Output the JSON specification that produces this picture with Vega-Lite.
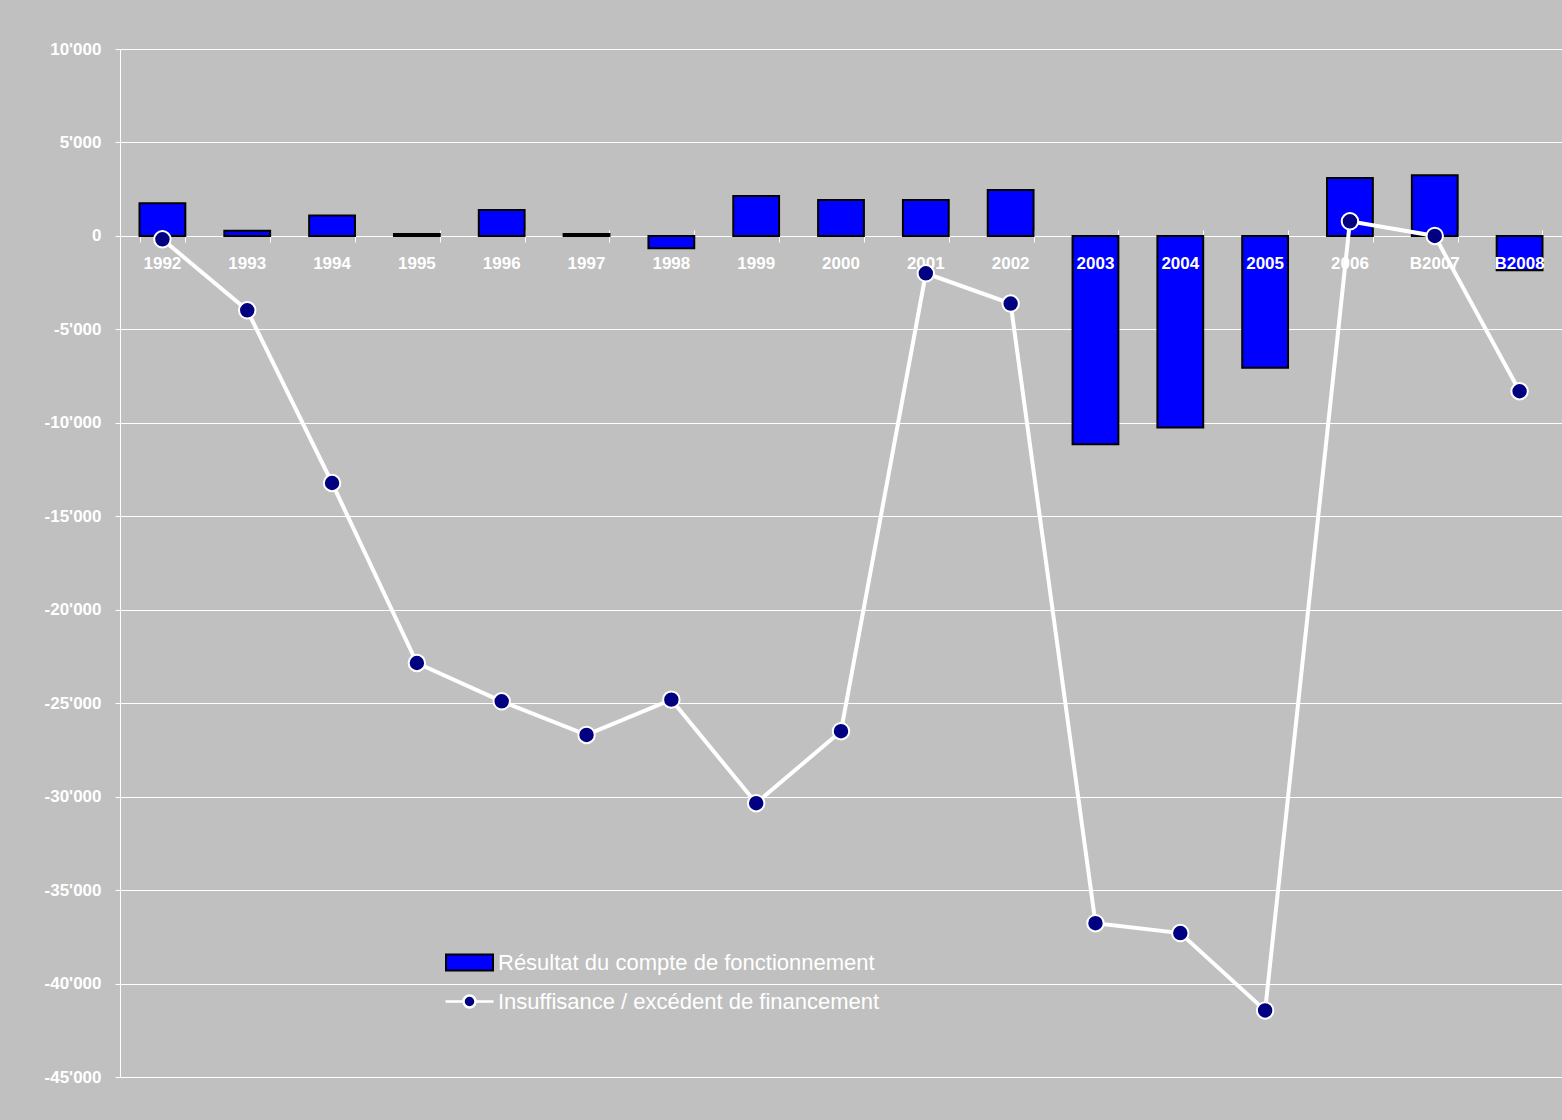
{
  "$schema": "https://vega.github.io/schema/vega-lite/v6.json",
  "width": 1442,
  "height": 1028,
  "autosize": {"type": "none"},
  "padding": {"left": 120, "top": 49, "right": 0, "bottom": 43},
  "background": "#C0C0C0",
  "config": {
    "view": {"stroke": null},
    "font": "Liberation Sans",
    "locale": {"number": {"decimal": ".", "thousands": "'", "grouping": [3], "currency": ["", ""], "minus": "-"}}
  },
  "data": {
    "values": [
      {"annee": "1992", "resultat": 1750, "financement": -180},
      {"annee": "1993", "resultat": 270, "financement": -3980},
      {"annee": "1994", "resultat": 1090, "financement": -13220},
      {"annee": "1995", "resultat": 100, "financement": -22850},
      {"annee": "1996", "resultat": 1390, "financement": -24900},
      {"annee": "1997", "resultat": 100, "financement": -26700},
      {"annee": "1998", "resultat": -660, "financement": -24810},
      {"annee": "1999", "resultat": 2140, "financement": -30350},
      {"annee": "2000", "resultat": 1925, "financement": -26500},
      {"annee": "2001", "resultat": 1925, "financement": -2000},
      {"annee": "2002", "resultat": 2460, "financement": -3620},
      {"annee": "2003", "resultat": -11140, "financement": -36770},
      {"annee": "2004", "resultat": -10250, "financement": -37300},
      {"annee": "2005", "resultat": -7060, "financement": -41440},
      {"annee": "2006", "resultat": 3100, "financement": 780},
      {"annee": "B2007", "resultat": 3240, "financement": 0},
      {"annee": "B2008", "resultat": -1840, "financement": -8310}
    ]
  },
  "encoding": {
    "x": {
      "field": "annee",
      "type": "nominal",
      "sort": null,
      "title": null,
      "scale": {"paddingInner": 0.46, "paddingOuter": 0.23},
      "axis": {
        "orient": "bottom",
        "offset": -847,
        "domain": false,
        "labels": false,
        "grid": false,
        "tickBand": "extent",
        "tickSize": 12,
        "tickColor": "white",
        "tickWidth": 1
      }
    }
  },
  "layer": [
    {
      "mark": {"type": "bar", "stroke": "black", "strokeWidth": 2},
      "encoding": {
        "y": {
          "field": "resultat",
          "type": "quantitative",
          "title": null,
          "scale": {"domain": [-45000, 10000], "nice": false},
          "axis": {
            "values": [-45000, -40000, -35000, -30000, -25000, -20000, -15000, -10000, -5000, 0, 5000, 10000],
            "format": ",d",
            "domainColor": "white",
            "tickColor": "white",
            "tickSize": 5,
            "gridColor": "white",
            "gridWidth": 1,
            "labelColor": "white",
            "labelFont": "Liberation Sans",
            "labelFontSize": 17,
            "labelFontWeight": "bold",
            "labelPadding": 14
          }
        },
        "fill": {
          "datum": "Résultat du compte de fonctionnement",
          "scale": {"range": ["#0000FF"]},
          "legend": {
            "title": null,
            "orient": "none",
            "legendX": 325,
            "legendY": 889,
            "symbolType": "M-1,-0.34H1V0.34H-1Z",
            "symbolSize": 2209,
            "symbolStrokeColor": "black",
            "symbolStrokeWidth": 2,
            "labelColor": "white",
            "labelFont": "Liberation Sans",
            "labelFontSize": 22,
            "labelOffset": 4,
            "labelLimit": 800,
            "encode": {"symbols": {"update": {"stroke": {"value": "black"}, "strokeWidth": {"value": 2}}}}
          }
        }
      }
    },
    {
      "mark": {"type": "text", "color": "white", "font": "Liberation Sans", "fontSize": 17, "fontWeight": "bold", "baseline": "alphabetic", "dy": 33},
      "encoding": {
        "y": {"datum": 0, "type": "quantitative"},
        "text": {"field": "annee", "type": "nominal"}
      }
    },
    {
      "mark": {"type": "line", "strokeWidth": 4},
      "encoding": {
        "y": {"field": "financement", "type": "quantitative"},
        "stroke": {
          "datum": "Insuffisance / excédent de financement",
          "scale": {"range": ["white"]},
          "legend": {
            "title": null,
            "orient": "none",
            "legendX": 324,
            "legendY": 927,
            "symbolType": "M-1,0H-0.25M0.25,0H1M0.25,0A0.25,0.25,0,1,1,-0.25,0A0.25,0.25,0,1,1,0.25,0Z",
            "symbolSize": 2304,
            "labelColor": "white",
            "labelFont": "Liberation Sans",
            "labelFontSize": 22,
            "labelOffset": 3,
            "labelLimit": 800,
            "encode": {"symbols": {"update": {"fill": {"value": "#000080"}, "stroke": {"value": "white"}, "strokeWidth": {"value": 2.5}, "opacity": {"value": 1}}}}
          }
        }
      }
    },
    {
      "mark": {"type": "point", "filled": true, "shape": "circle", "size": 270, "fill": "#000080", "stroke": "white", "strokeWidth": 2, "opacity": 1},
      "encoding": {
        "y": {"field": "financement", "type": "quantitative"}
      }
    }
  ]
}
